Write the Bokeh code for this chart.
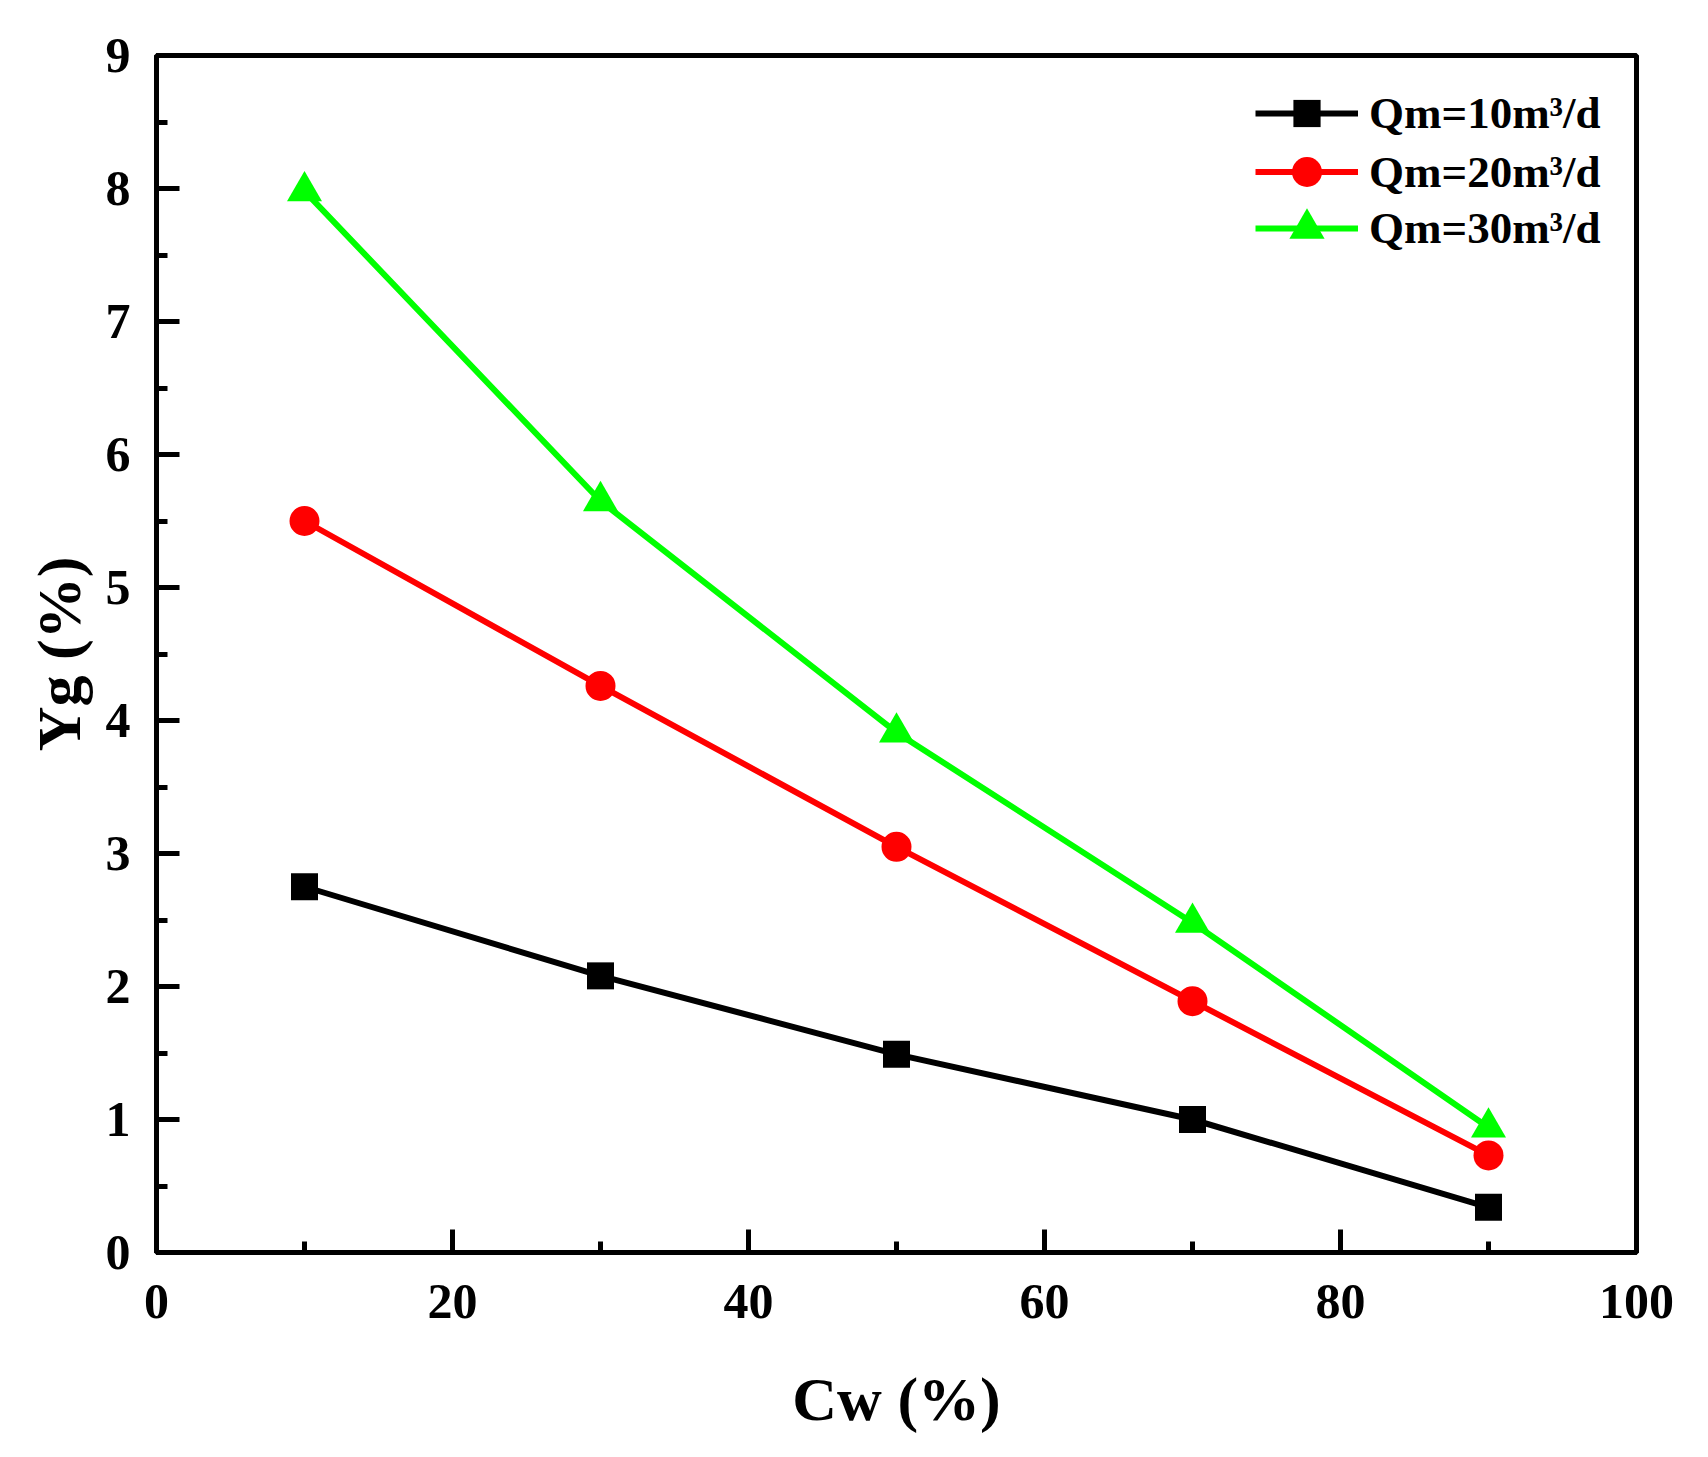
from bokeh.plotting import figure
from bokeh.models import SingleIntervalTicker, Range1d, Legend, LegendItem
from bokeh.embed import file_html
from bokeh.resources import INLINE

cw = [10, 30, 50, 70, 90]
qm10 = [2.75, 2.08, 1.49, 1.00, 0.34]
qm20 = [5.50, 4.26, 3.05, 1.89, 0.73]
qm30 = [7.98, 5.65, 3.91, 2.48, 0.94]
labels = ["Qm=10m³/d", "Qm=20m³/d", "Qm=30m³/d"]

FONT = "Liberation Serif"

p = figure(width=1690, height=1450, output_backend="svg", toolbar_location=None,
           x_range=Range1d(0, 100), y_range=Range1d(0, 9),
           min_border_left=156, min_border_right=54, min_border_top=55, min_border_bottom=198)

p.xgrid.visible = False
p.ygrid.visible = False
p.outline_line_color = "black"
p.outline_line_width = 5

p.xaxis.ticker = SingleIntervalTicker(interval=20, num_minor_ticks=2)
p.yaxis.ticker = SingleIntervalTicker(interval=1, num_minor_ticks=2)

for ax in (p.xaxis[0], p.yaxis[0]):
    ax.axis_line_width = 5
    ax.axis_line_color = "black"
    ax.major_tick_in = 23
    ax.major_tick_out = 0
    ax.minor_tick_in = 11
    ax.minor_tick_out = 0
    ax.major_tick_line_width = 5
    ax.minor_tick_line_width = 5
    ax.major_label_text_font = FONT
    ax.major_label_text_font_style = "bold"
    ax.major_label_text_font_size = "50px"
    ax.major_label_text_color = "black"
    ax.axis_label_text_font = FONT
    ax.axis_label_text_font_style = "bold"
    ax.axis_label_text_font_size = "62px"
    ax.axis_label_text_color = "black"

p.xaxis.axis_label = "Cw (%)"
p.yaxis.axis_label = "Yg (%)"
p.xaxis.major_label_standoff = 32
p.yaxis.major_label_standoff = 26
p.xaxis.axis_label_standoff = 44
p.yaxis.axis_label_standoff = 10

l1 = p.line(cw, qm10, line_color="black", line_width=6)
m1 = p.scatter(cw, qm10, marker="square", size=27, fill_color="black", line_color="black", line_width=0)
l2 = p.line(cw, qm20, line_color="#FF0000", line_width=6)
m2 = p.scatter(cw, qm20, marker="circle", size=30, fill_color="#FF0000", line_color="#FF0000", line_width=0)
l3 = p.line(cw, qm30, line_color="#00FF00", line_width=6)
m3 = p.scatter(cw, qm30, marker="triangle", size=35, fill_color="#00FF00", line_color="#00FF00", line_width=0)

# one legend per entry so each marker can be drawn at full size
frame_h = 1197
row_centers = [58, 116, 173]          # px below frame top
glyph_hs = [68, 75, 88]               # legend marker size = 0.4 * glyph height
for lab, rends, c, gh in zip(labels, [[l1, m1], [l2, m2], [l3, m3]], row_centers, glyph_hs):
    lg = Legend(items=[LegendItem(label=lab, renderers=rends)],
                location=(1099, int(frame_h - c - gh / 2)), border_line_color=None,
                background_fill_alpha=0, padding=0, margin=0, spacing=0,
                glyph_width=103, glyph_height=gh, label_height=gh, label_standoff=11,
                label_text_font=FONT, label_text_font_style="bold",
                label_text_font_size="45px", label_text_color="black")
    p.add_layout(lg, "center")

open("out.html", "w").write(file_html(p, INLINE))
